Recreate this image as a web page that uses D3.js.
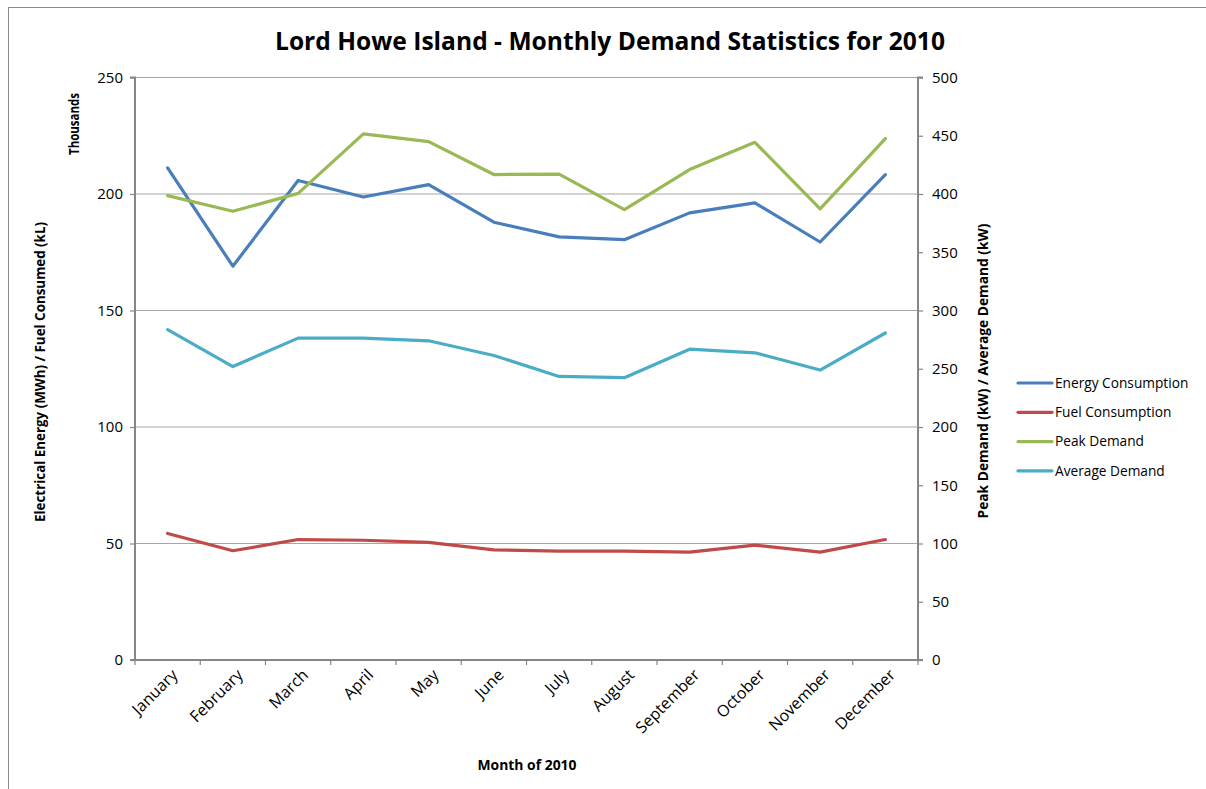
<!DOCTYPE html>
<html>
<head>
<meta charset="utf-8">
<script src="https://cdn.jsdelivr.net/npm/d3@7"></script>
<style>
  body { margin: 0; background: #fff; }
  text { font-family: "Open Sans", Lato, sans-serif; fill: #000; }
</style>
</head>
<body>
<svg id="chart" width="1206" height="789"></svg>
<script>
const months = ["January","February","March","April","May","June","July","August","September","October","November","December"];
const energyConsumption = [211.2, 169.0, 205.8, 198.7, 204.0, 187.9, 181.6, 180.4, 191.9, 196.2, 179.4, 208.3];
const fuelConsumption = [54.3, 46.9, 51.7, 51.4, 50.5, 47.3, 46.7, 46.7, 46.3, 49.3, 46.3, 51.7];
const peakDemand = [398.6, 385.2, 400.5, 451.6, 445.0, 416.7, 417.0, 386.6, 421.0, 444.4, 387.2, 447.6];
const averageDemand = [283.5, 251.9, 276.3, 276.3, 274.0, 261.4, 243.4, 242.3, 266.8, 263.7, 248.9, 280.7];
const leftTicks = [0, 50, 100, 150, 200, 250];
const rightTicks = [0, 50, 100, 150, 200, 250, 300, 350, 400, 450, 500];

const series = [
  { name: "Energy Consumption", values: energyConsumption, axis: "left", color: "#4a7ebb" },
  { name: "Fuel Consumption", values: fuelConsumption, axis: "left", color: "#be4b48" },
  { name: "Peak Demand", values: peakDemand, axis: "right", color: "#98b954" },
  { name: "Average Demand", values: averageDemand, axis: "right", color: "#4bacc6" }
];

const svg = d3.select("#chart");
const L = 135, R = 918, T = 77.5, B = 660;
const FONT = "'Open Sans', Lato, sans-serif";

// outer border
svg.append("rect").attr("x", 8.5).attr("y", 7.5).attr("width", 1300).attr("height", 900)
  .attr("fill", "none").attr("stroke", "#8c8c8c").attr("stroke-width", 1);

const x = d3.scaleBand().domain(months).range([L, R]).padding(0);
const yL = d3.scaleLinear().domain([0, 250]).range([B, T]);
const yR = d3.scaleLinear().domain([0, 500]).range([B, T]);

// gridlines
svg.append("g").selectAll("line").data(leftTicks.filter(d => d > 0)).join("line")
  .attr("x1", L).attr("x2", R).attr("y1", d => yL(d)).attr("y2", d => yL(d))
  .attr("stroke", "#a6a6a6").attr("stroke-width", 1.2);

// left axis
const gL = svg.append("g").attr("transform", `translate(${L},0)`)
  .call(d3.axisLeft(yL).tickValues(leftTicks).tickSize(5).tickPadding(7));
// right axis
const gR = svg.append("g").attr("transform", `translate(${R},0)`)
  .call(d3.axisRight(yR).tickValues(rightTicks).tickSize(5).tickPadding(9));
// bottom axis
const boundaries = months.map(m => x(m)).concat([R]);
const gB = svg.append("g").attr("transform", `translate(0,${B})`)
  .call(d3.axisBottom(x).tickSize(0).tickFormat(""));
gB.selectAll(".tick").remove();
gB.append("g").selectAll("line").data(boundaries).join("line")
  .attr("x1", d => d).attr("x2", d => d).attr("y1", 0).attr("y2", 5)
  .attr("stroke", "#868686").attr("stroke-width", 1.2);

[gL, gR, gB].forEach(g => {
  g.select(".domain").attr("stroke", "#868686").attr("stroke-width", 2);
  g.selectAll(".tick line").attr("stroke", "#868686").attr("stroke-width", 1.2);
  g.selectAll(".tick text").attr("font-family", FONT)
    .attr("font-size", 15).attr("fill", "#1a1a1a");
});
gL.select(".domain").attr("d", `M-5,${T}H0V${B}H-5`);
gR.select(".domain").attr("d", `M5,${T}H0V${B}H5`);
gB.select(".domain").attr("d", `M${L},0H${R}`);

// month labels
svg.append("g").selectAll("text").data(months).join("text")
  .attr("transform", d => `translate(${x(d) + x.bandwidth() / 2 + 7},${B + 12}) rotate(-45)`)
  .attr("text-anchor", "end").attr("dy", "0.35em")
  .attr("font-size", 16).attr("fill", "#1a1a1a").text(d => d);

// lines
series.forEach(s => {
  const y = s.axis === "left" ? yL : yR;
  const line = d3.line().x((d, i) => x(months[i]) + x.bandwidth() / 2).y(d => y(d));
  svg.append("path").datum(s.values).attr("d", line)
    .attr("fill", "none").attr("stroke", s.color).attr("stroke-width", 3.2)
    .attr("stroke-linejoin", "round").attr("stroke-linecap", "round");
});

// title
svg.append("text").attr("x", 610).attr("y", 50).attr("text-anchor", "middle")
  .attr("font-family", "Lato, sans-serif")
  .attr("font-size", 25).attr("font-weight", "bold")
  .attr("textLength", 670).attr("lengthAdjust", "spacingAndGlyphs")
  .text("Lord Howe Island - Monthly Demand Statistics for 2010");

// axis titles
svg.append("text").attr("transform", "translate(45,372) rotate(-90)").attr("text-anchor", "middle")
  .attr("font-family", "Lato, sans-serif").attr("font-size", 14).attr("font-weight", "bold")
  .attr("textLength", 300).attr("lengthAdjust", "spacingAndGlyphs")
  .text("Electrical Energy (MWh) / Fuel Consumed (kL)");
svg.append("text").attr("transform", "translate(79,124) rotate(-90)").attr("text-anchor", "middle")
  .attr("font-family", "Lato, sans-serif").attr("font-size", 14).attr("font-weight", "bold")
  .attr("textLength", 62).attr("lengthAdjust", "spacingAndGlyphs").text("Thousands");
svg.append("text").attr("transform", "translate(988,371) rotate(-90)").attr("text-anchor", "middle")
  .attr("font-family", "Lato, sans-serif").attr("font-size", 14).attr("font-weight", "bold")
  .attr("textLength", 295).attr("lengthAdjust", "spacingAndGlyphs")
  .text("Peak Demand (kW) / Average Demand (kW)");
svg.append("text").attr("x", 527).attr("y", 770).attr("text-anchor", "middle")
  .attr("font-family", "Lato, sans-serif").attr("font-size", 14).attr("font-weight", "bold")
  .attr("textLength", 99).attr("lengthAdjust", "spacingAndGlyphs").text("Month of 2010");

// legend
const lg = svg.append("g").selectAll("g").data(series).join("g")
  .attr("transform", (d, i) => `translate(1018,${383 + i * 29.3})`);
lg.append("line").attr("x1", 0).attr("x2", 34).attr("stroke", d => d.color)
  .attr("stroke-width", 3.2).attr("stroke-linecap", "round");
lg.append("text").attr("x", 37).attr("dy", "0.35em").attr("font-size", 13.7)
  .attr("fill", "#1a1a1a").text(d => d.name);
</script>
</body>
</html>
